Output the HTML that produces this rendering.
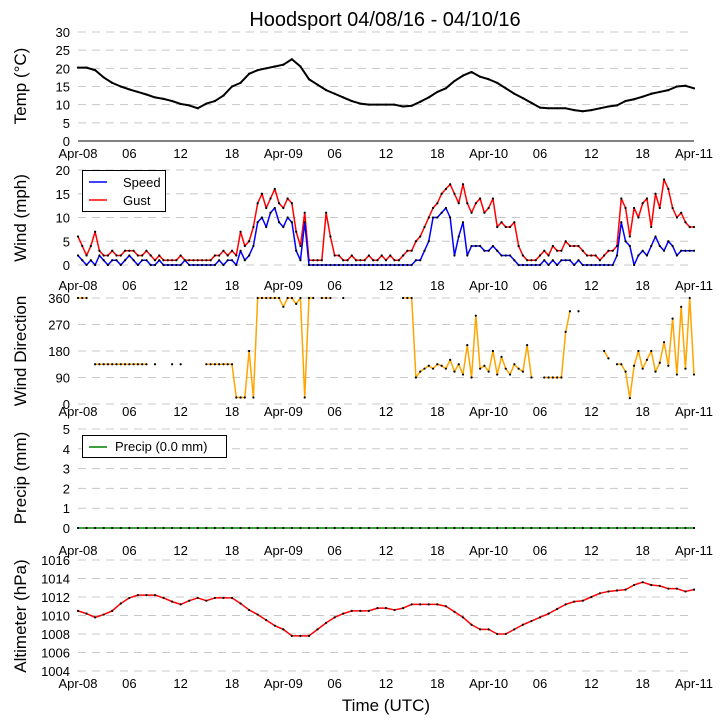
<!DOCTYPE html>
<html><head><meta charset="utf-8"><style>
html,body{margin:0;padding:0;background:#fff}
svg{display:block;font-family:"Liberation Sans","DejaVu Sans",sans-serif}
</style></head><body>
<svg id="chart" width="725" height="725" viewBox="0 0 725 725">
<text x="385" y="26" font-size="20" text-anchor="middle">Hoodsport 04/08/16 - 04/10/16</text>
</svg>
<script>
const xTickLabels = ["Apr-08","06","12","18","Apr-09","06","12","18","Apr-10","06","12","18","Apr-11"];
const tempHourly = [20.2,20.2,19.5,17.5,16,15,14.2,13.5,12.8,12,11.6,11,10.2,9.8,9,10.3,11,12.5,15,16,18.5,19.5,20,20.5,21,22.5,20.5,17,15.5,14,13,12,11,10.3,10,10,10,10,9.5,9.7,10.8,12,13.5,14.5,16.5,18,19,17.7,17,16,14.5,13,11.8,10.5,9.2,9,9,9,8.5,8.2,8.5,9,9.5,9.8,11,11.5,12.2,13,13.5,14,15,15.2,14.5];
const windSpeedHalfHourly = [2,1,0,1,0,2,1,0,1,1,0,1, 2,1,0,1,1,0,0,1,0,0,0,0, 0,1,0,0,0,0,0,0,0,1,0,1, 1,0,3,1,2,4,9,10,8,11,12,9, 8,10,9,3,1,9,0,0,0,0,0,0, 0,0,0,0,0,0,0,0,0,0,0,0, 0,0,0,0,0,0,0,1,1,3,5,10, 10,11,12,10,2,6,9,2,4,4,4,3, 3,4,3,2,2,2,1,0,0,0,0,0, 0,1,0,1,0,1,1,1,0,1,0,0, 0,0,0,0,0,0,2,9,5,4,0,2, 3,2,4,6,4,3,5,4,2,3,3,3, 3];
const windGustHalfHourly = [6,4,2,4,7,3,2,2,3,2,2,3, 3,3,2,2,3,2,1,2,1,1,1,1, 2,1,1,1,1,1,1,1,2,2,3,2, 3,2,7,4,5,8,13,15,12,14,16,13, 12,14,13,7,4,11,1,1,1,1,11,6, 2,2,1,1,2,1,1,1,2,1,1,2, 1,2,1,1,2,3,3,5,6,8,10,12, 13,15,16,17,15,13,17,13,11,13,14,11, 12,14,8,9,8,8,9,4,2,1,1,1, 2,3,2,4,3,3,5,4,4,4,3,2, 2,2,1,2,3,3,4,14,12,6,12,10, 13,14,8,15,12,18,16,12,10,11,9,8, 8];
const windDirHalfHourly = [360,360,360,null,135,135,135,135,135,135,135,135, 135,135,135,135,135,null,135,null,null,null,135,null, 135,null,null,null,null,null,135,135,135,135,135,135, 135,22,22,22,180,22,360,360,360,360,360,360, 330,360,360,340,360,22,360,360,null,360,360,360, null,null,360,null,null,null,null,null,null,null,null,null, null,null,null,null,360,360,360,90,110,120,130,120, 135,130,120,150,110,135,100,200,90,300,120,130, 110,180,100,160,120,100,135,120,110,200,90,null, null,90,90,90,90,90,245,315,null,315,null,null, null,null,null,180,155,null,135,135,110,20,130,180, 120,150,180,110,140,210,130,290,100,330,120,360, 100];
const precipHourly = new Array(73).fill(0);
const altimeterHourly = [1010.5,1010.2,1009.8,1010.1,1010.5,1011.3,1011.9,1012.2,1012.2,1012.2,1011.9,1011.5,1011.2,1011.6,1011.9,1011.6,1011.9,1011.9,1011.9,1011.3,1010.6,1010.1,1009.5,1008.9,1008.5,1007.8,1007.8,1007.8,1008.5,1009.2,1009.8,1010.2,1010.5,1010.5,1010.5,1010.8,1010.8,1010.6,1010.8,1011.2,1011.2,1011.2,1011.2,1011,1010.4,1009.8,1009,1008.5,1008.5,1008,1008,1008.5,1009,1009.4,1009.8,1010.2,1010.7,1011.2,1011.5,1011.6,1012,1012.4,1012.6,1012.7,1012.8,1013.3,1013.6,1013.3,1013.2,1012.9,1012.9,1012.6,1012.8];

const NS="http://www.w3.org/2000/svg";
const svg=document.getElementById('chart');
const X0=78,X1=694;
function X(h){return X0+h*(X1-X0)/72;}
function mk(tag,attrs,parent){const e=document.createElementNS(NS,tag);for(const k in attrs)e.setAttribute(k,attrs[k]);(parent||svg).appendChild(e);return e;}

function panel(key,top,bot,min,max,ticks,label,labelY,xlabY){
  const g=mk('g',{});
  
  
  const Y=v=>bot-(v-min)*(bot-top)/(max-min);
  ticks.forEach(t=>{
    const ln=mk('line',{x1:X0,x2:X1,y1:Y(t),y2:Y(t),stroke:'#c8c8c8','stroke-dasharray':'8,6','stroke-width':1},g);
    
    
    const tx=mk('text',{x:70,y:Y(t)+5,'font-size':13,'text-anchor':'end'},g);
    tx.textContent=t;
    
    
  });
  xTickLabels.forEach((s,i)=>{
    const tx=mk('text',{x:X(i*6),y:xlabY,'font-size':13,'text-anchor':'middle'},g);
    tx.textContent=s;
    
    
  });
  const yl=mk('text',{x:0,y:0,'font-size':17,'text-anchor':'middle',transform:`translate(26,${labelY}) rotate(-90)`},g);
  yl.textContent=label;
  
  
  return {g,Y};
}
function series(g,Y,vals,step,color,name,lw){
  let segs=[],cur=[];
  vals.forEach((v,i)=>{ if(v===null){if(cur.length)segs.push(cur);cur=[];} else cur.push([X(i*step),Y(v)]); });
  if(cur.length)segs.push(cur);
  segs.forEach(s=>{
    const p=mk('polyline',{points:s.map(q=>q.join(',')).join(' '),fill:'none',stroke:color,'stroke-width':lw||1.5,'stroke-linejoin':'round'},g);
    
    
  });
  vals.forEach((v,i)=>{ if(v===null)return;
    const c=mk('circle',{cx:X(i*step),cy:Y(v),r:1.1,fill:'#000'},g);
    
    
  });
}

// Temperature
let p=panel('temp',32,141,0,30,[0,5,10,15,20,25,30],'Temp ($^\\circ$C)'.replace('($^\\circ$C)','(°C)'),86,158);
mk('line',{x1:X0,x2:X1,y1:141,y2:141,stroke:'#000','stroke-width':1},p.g);
series(p.g,p.Y,tempHourly,1,'#000','temperature',2);

// Wind
p=panel('wind',170,265,0,20,[0,5,10,15,20],'Wind (mph)',218,290);
series(p.g,p.Y,windGustHalfHourly,0.5,'#f00','gust',1.5);
series(p.g,p.Y,windSpeedHalfHourly,0.5,'#00f','speed',1.5);
let lg=mk('g',{});


mk('rect',{x:82.5,y:170.5,width:83,height:41,fill:'#fff',stroke:'#000','stroke-width':1},lg);
mk('line',{x1:89,x2:107,y1:182,y2:182,stroke:'#00f','stroke-width':1.5},lg);
mk('line',{x1:89,x2:107,y1:200,y2:200,stroke:'#f00','stroke-width':1.5},lg);
let t=mk('text',{x:123,y:187,'font-size':13},lg);t.textContent='Speed';


t=mk('text',{x:123,y:205,'font-size':13},lg);t.textContent='Gust';



// Direction
p=panel('direction',298,404,0,360,[0,90,180,270,360],'Wind Direction',351,416);
series(p.g,p.Y,windDirHalfHourly,0.5,'#ffa500','wind-direction',1.5);

// Precip
p=panel('precip',429,528,0,5,[0,1,2,3,4,5],'Precip (mm)',478,555);
series(p.g,p.Y,precipHourly,1,'#008000','precip',1.5);
lg=mk('g',{});


mk('rect',{x:82.5,y:435.5,width:144,height:22,fill:'#fff',stroke:'#000','stroke-width':1},lg);
mk('line',{x1:89,x2:107,y1:447,y2:447,stroke:'#008000','stroke-width':1.5},lg);
t=mk('text',{x:115,y:451,'font-size':13},lg);t.textContent='Precip (0.0 mm)';



// Altimeter
p=panel('altimeter',560,671,1004,1016,[1004,1006,1008,1010,1012,1014,1016],'Altimeter (hPa)',616,688);
series(p.g,p.Y,altimeterHourly,1,'#f00','altimeter',1.5);
t=mk('text',{x:386,y:711,'font-size':17,'text-anchor':'middle'});
t.textContent='Time (UTC)';


</script>
</body></html>
